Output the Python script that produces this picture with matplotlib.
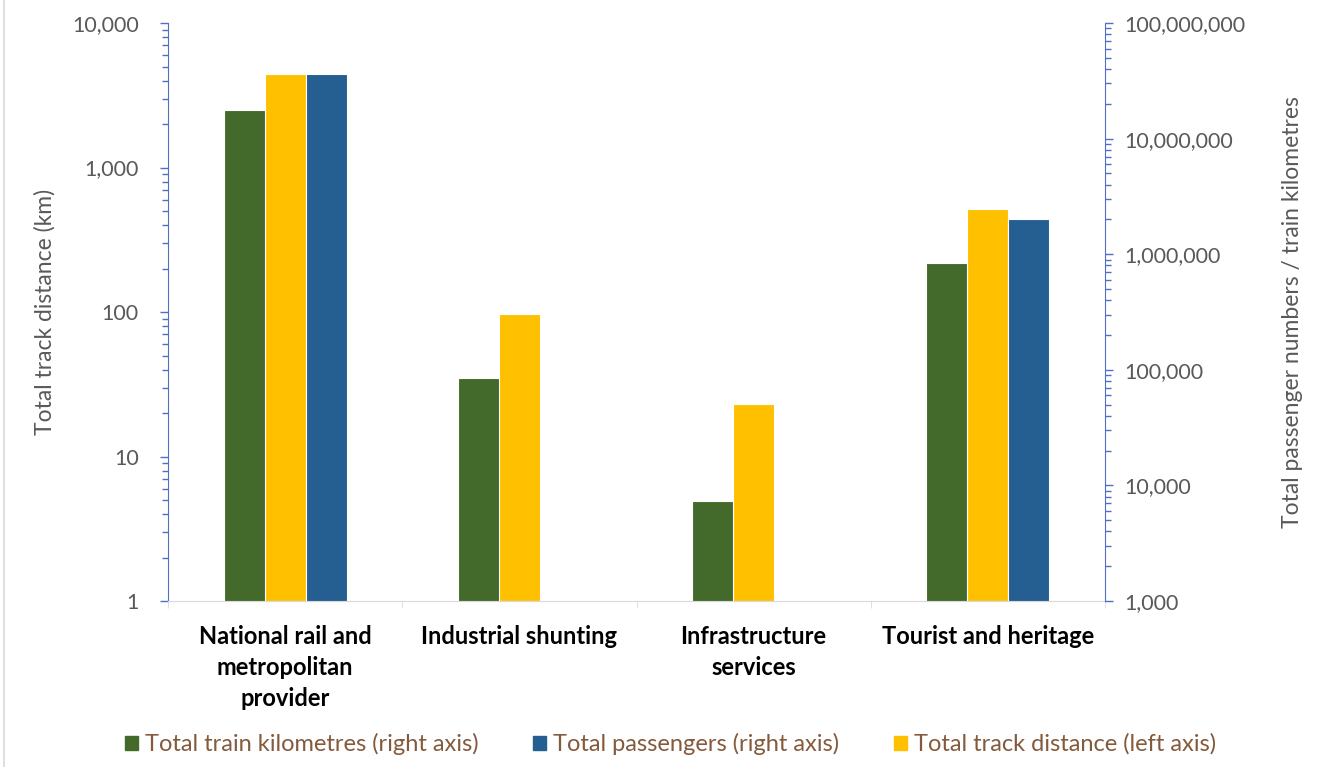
import matplotlib
matplotlib.use("Agg")
import matplotlib.pyplot as plt
from matplotlib.ticker import FuncFormatter, LogLocator, FixedLocator, NullFormatter
from matplotlib.patches import Patch
from matplotlib.lines import Line2D
import numpy as np

plt.rcParams['font.family'] = ['Lato', 'DejaVu Sans']

categories = ["National rail and\nmetropolitan\nprovider", "Industrial shunting",
              "Infrastructure\nservices", "Tourist and heritage"]
# right axis series (None = not reported)
train_km = [17_700_000, 85_000, 7_300, 840_000]
passengers = [36_000_000, None, None, 2_000_000]
# left axis series
track_km = [4_430, 97, 23, 515]

GREEN = "#436a2b"
BLUE = "#255e91"
YELLOW = "#ffc000"
GREY = "#595959"
BROWN = "#845a3c"
AXIS_BLUE = "#4f6fc8"

fig = plt.figure(figsize=(13.25, 7.67), dpi=100)
ax = fig.add_axes([0.1268, 0.2164, 0.7072, 0.7536])
ax2 = ax.twinx()

x = np.arange(len(categories))
w = 0.175

def bars(axis, values, offset, color, base):
    xs = [xi + offset for xi, v in zip(x, values) if v]
    vs = [v - base for v in values if v]
    axis.bar(xs, vs, w, bottom=base, color=color, edgecolor="white", linewidth=0.8)

bars(ax, track_km, 0.0, YELLOW, 1)
bars(ax2, train_km, -w, GREEN, 1000)
bars(ax2, passengers, w, BLUE, 1000)

comma = FuncFormatter(lambda v, _: f"{v:,.0f}")

for a, lo, hi, pad in ((ax, 1, 1e4, 15), (ax2, 1e3, 1e8, 8)):
    a.set_yscale("log")
    a.set_ylim(lo, hi)
    a.yaxis.set_major_locator(LogLocator(base=10, numticks=20))
    a.yaxis.set_minor_locator(LogLocator(base=10, subs=np.arange(2, 10), numticks=20))
    a.yaxis.set_major_formatter(comma)
    a.yaxis.set_minor_formatter(NullFormatter())
    a.tick_params(axis="y", which="major", length=6, width=1, color=AXIS_BLUE,
                  labelsize=15.5, labelcolor=GREY, pad=pad)
    a.tick_params(axis="y", which="minor", length=4, width=1, color=AXIS_BLUE)
    for s in a.spines.values():
        s.set_visible(False)

ax.spines["left"].set_visible(True)
ax.spines["left"].set_color(AXIS_BLUE)
ax2.spines["right"].set_visible(True)
ax2.spines["right"].set_color(AXIS_BLUE)
ax.spines["bottom"].set_visible(True)
ax.spines["bottom"].set_color("#d9d9d9")

ax.set_xlim(-0.5, len(categories) - 0.5)
ax.set_xticks(x)
ax.set_xticklabels(categories, fontsize=17, fontweight="bold", color="black",
                   linespacing=1.42)
ax.xaxis.set_minor_locator(FixedLocator(np.arange(-0.5, len(categories), 1.0)))
ax.tick_params(axis="x", which="major", length=0, pad=17)
ax.tick_params(axis="x", which="minor", length=5, color="#d9d9d9")

ax.set_ylabel("Total track distance (km)", fontsize=16.5, color=GREY, labelpad=12)
ax2.set_ylabel("Total passenger numbers / train kilometres", fontsize=16.5,
               color=GREY, labelpad=26)

handles = [Patch(color=GREEN, label="Total train kilometres (right axis)"),
           Patch(color=BLUE, label="Total passengers (right axis)"),
           Patch(color=YELLOW, label="Total track distance (left axis)")]
leg = fig.legend(handles=handles, loc="center", bbox_to_anchor=(0.506, 0.03),
                 ncol=3, frameon=False, fontsize=17, handlelength=0.55,
                 handleheight=0.55, handletextpad=0.3, columnspacing=2.3)
for t in leg.get_texts():
    t.set_color(BROWN)

fig.add_artist(Line2D([0.003, 0.003], [0, 1], color="#d9d9d9", linewidth=1.2))

fig.savefig("out.png", dpi=100)
